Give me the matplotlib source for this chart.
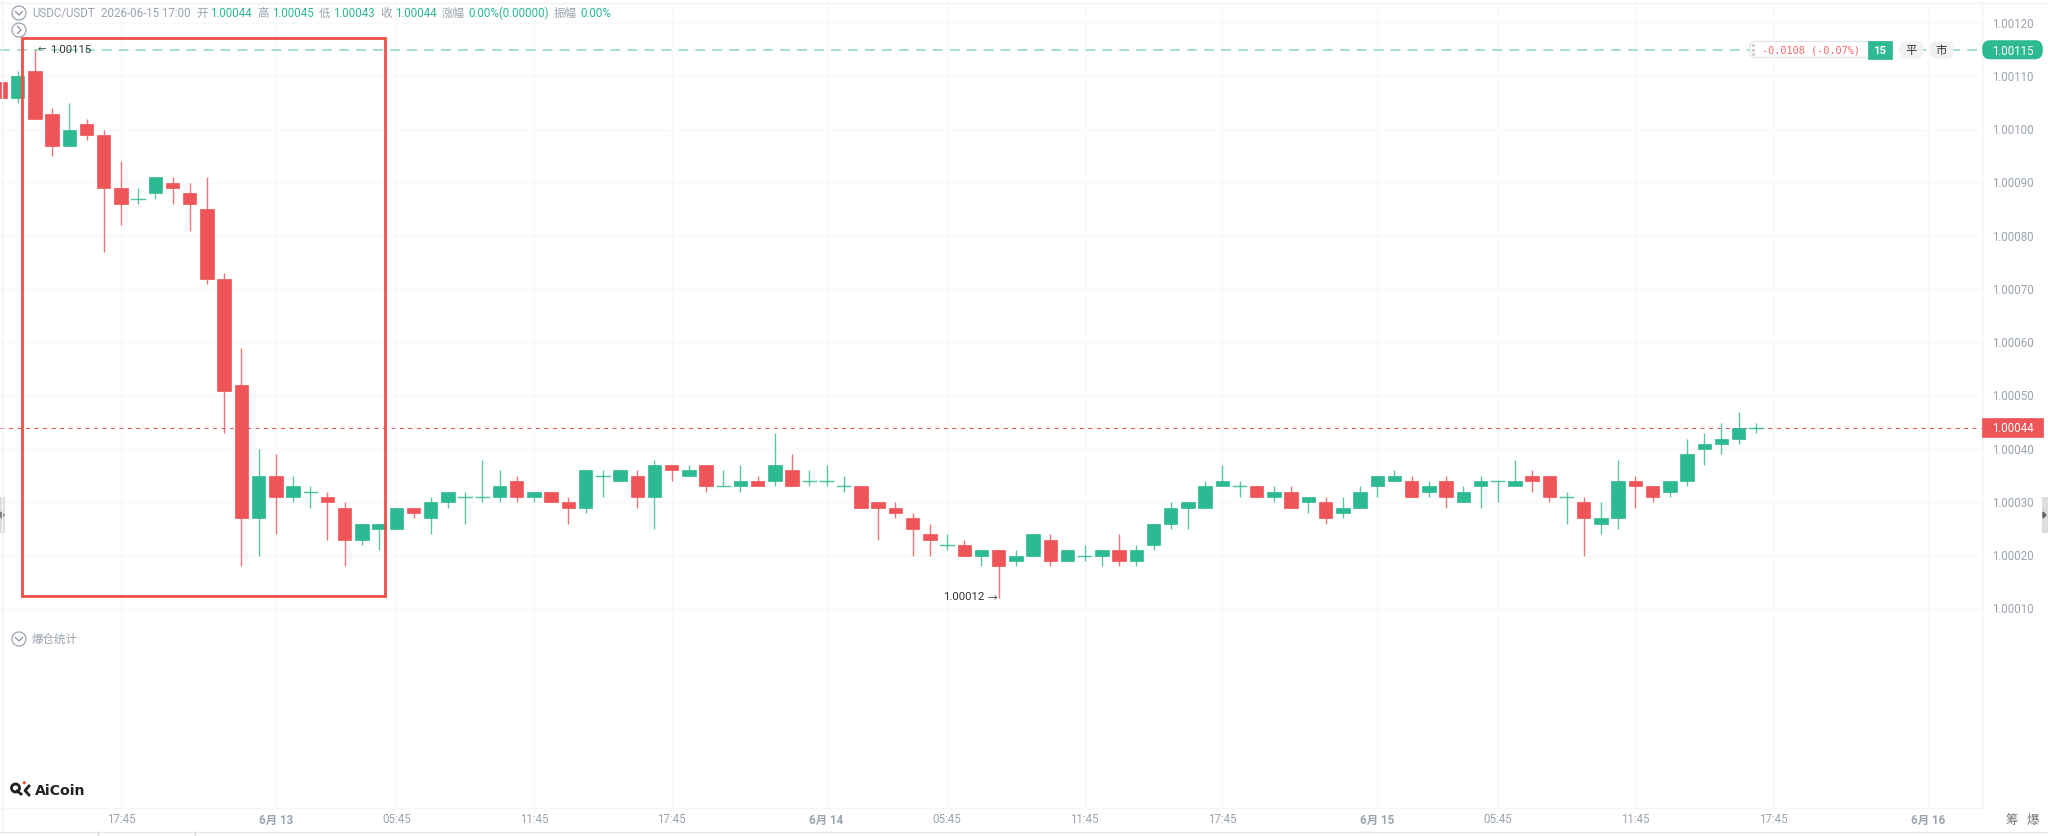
import matplotlib
matplotlib.use('Agg')
import matplotlib.pyplot as plt
from matplotlib.patches import Rectangle, FancyBboxPatch, Circle

plt.rcParams['font.family'] = ['Roboto', 'Noto Sans CJK SC', 'DejaVu Sans']

# OHLC of the visible bars, the first one is cut by the left edge
opens = [1.00109, 1.00106, 1.00111, 1.00103, 1.00097, 1.00101, 1.00099, 1.00089, 1.00087, 1.00088,
         1.00090, 1.00088, 1.00085, 1.00072, 1.00052, 1.00027, 1.00035, 1.00031, 1.00032, 1.00031,
         1.00029, 1.00023, 1.00025, 1.00025, 1.00029, 1.00027, 1.00030, 1.00031, 1.00031, 1.00031,
         1.00034, 1.00031, 1.00032, 1.00030, 1.00029, 1.00035, 1.00034, 1.00035, 1.00031, 1.00037,
         1.00035, 1.00037, 1.00033, 1.00033, 1.00034, 1.00034, 1.00036, 1.00034, 1.00034, 1.00033,
         1.00033, 1.00030, 1.00029, 1.00027, 1.00024, 1.00022, 1.00022, 1.00020, 1.00021, 1.00019,
         1.00020, 1.00023, 1.00019, 1.00020, 1.00020, 1.00021, 1.00019, 1.00022, 1.00026, 1.00029,
         1.00029, 1.00033, 1.00033, 1.00033, 1.00031, 1.00032, 1.00030, 1.00030, 1.00028, 1.00029,
         1.00033, 1.00034, 1.00034, 1.00032, 1.00034, 1.00030, 1.00033, 1.00034, 1.00033, 1.00035,
         1.00035, 1.00031, 1.00030, 1.00026, 1.00027, 1.00034, 1.00033, 1.00032, 1.00034, 1.00040,
         1.00041, 1.00042, 1.00044]
highs = [1.00109, 1.00111, 1.00115, 1.00104, 1.00105, 1.00102, 1.00100, 1.00094, 1.00089, 1.00091,
         1.00091, 1.00090, 1.00091, 1.00073, 1.00059, 1.00040, 1.00039, 1.00035, 1.00033, 1.00032,
         1.00030, 1.00026, 1.00026, 1.00029, 1.00029, 1.00031, 1.00032, 1.00032, 1.00038, 1.00036,
         1.00035, 1.00032, 1.00032, 1.00031, 1.00036, 1.00036, 1.00036, 1.00036, 1.00038, 1.00037,
         1.00037, 1.00037, 1.00036, 1.00037, 1.00035, 1.00043, 1.00039, 1.00036, 1.00037, 1.00035,
         1.00033, 1.00030, 1.00030, 1.00028, 1.00026, 1.00024, 1.00023, 1.00021, 1.00021, 1.00021,
         1.00024, 1.00024, 1.00021, 1.00022, 1.00021, 1.00024, 1.00022, 1.00026, 1.00030, 1.00030,
         1.00034, 1.00037, 1.00034, 1.00033, 1.00033, 1.00033, 1.00031, 1.00031, 1.00031, 1.00033,
         1.00035, 1.00036, 1.00035, 1.00034, 1.00035, 1.00033, 1.00035, 1.00034, 1.00038, 1.00036,
         1.00035, 1.00032, 1.00031, 1.00030, 1.00038, 1.00035, 1.00033, 1.00034, 1.00042, 1.00043,
         1.00045, 1.00047, 1.00045]
lows = [1.00106, 1.00105, 1.00102, 1.00095, 1.00097, 1.00098, 1.00077, 1.00082, 1.00086, 1.00087,
        1.00086, 1.00081, 1.00071, 1.00043, 1.00018, 1.00020, 1.00024, 1.00030, 1.00029, 1.00023,
        1.00018, 1.00022, 1.00021, 1.00025, 1.00027, 1.00024, 1.00029, 1.00026, 1.00030, 1.00030,
        1.00030, 1.00030, 1.00030, 1.00026, 1.00028, 1.00031, 1.00034, 1.00029, 1.00025, 1.00034,
        1.00035, 1.00032, 1.00033, 1.00032, 1.00033, 1.00033, 1.00033, 1.00033, 1.00033, 1.00032,
        1.00029, 1.00023, 1.00027, 1.00020, 1.00020, 1.00021, 1.00020, 1.00018, 1.00012, 1.00018,
        1.00020, 1.00018, 1.00019, 1.00019, 1.00018, 1.00018, 1.00018, 1.00021, 1.00025, 1.00025,
        1.00029, 1.00033, 1.00031, 1.00031, 1.00030, 1.00029, 1.00028, 1.00026, 1.00027, 1.00029,
        1.00031, 1.00034, 1.00031, 1.00031, 1.00029, 1.00030, 1.00029, 1.00030, 1.00033, 1.00032,
        1.00030, 1.00026, 1.00020, 1.00024, 1.00025, 1.00029, 1.00030, 1.00031, 1.00033, 1.00037,
        1.00039, 1.00041, 1.00043]
closes = [1.00106, 1.00110, 1.00102, 1.00097, 1.00100, 1.00099, 1.00089, 1.00086, 1.00087, 1.00091,
          1.00089, 1.00086, 1.00072, 1.00051, 1.00027, 1.00035, 1.00031, 1.00033, 1.00032, 1.00030,
          1.00023, 1.00026, 1.00026, 1.00029, 1.00028, 1.00030, 1.00032, 1.00031, 1.00031, 1.00033,
          1.00031, 1.00032, 1.00030, 1.00029, 1.00036, 1.00035, 1.00036, 1.00031, 1.00037, 1.00036,
          1.00036, 1.00033, 1.00033, 1.00034, 1.00033, 1.00037, 1.00033, 1.00034, 1.00034, 1.00033,
          1.00029, 1.00029, 1.00028, 1.00025, 1.00023, 1.00022, 1.00020, 1.00021, 1.00018, 1.00020,
          1.00024, 1.00019, 1.00021, 1.00020, 1.00021, 1.00019, 1.00021, 1.00026, 1.00029, 1.00030,
          1.00033, 1.00034, 1.00033, 1.00031, 1.00032, 1.00029, 1.00031, 1.00027, 1.00029, 1.00032,
          1.00035, 1.00035, 1.00031, 1.00033, 1.00031, 1.00032, 1.00034, 1.00034, 1.00034, 1.00034,
          1.00031, 1.00031, 1.00027, 1.00027, 1.00034, 1.00033, 1.00031, 1.00034, 1.00039, 1.00041,
          1.00042, 1.00044, 1.00044]

y_ticks = [1.00010, 1.00020, 1.00030, 1.00040, 1.00050, 1.00060, 1.00070, 1.00080,
           1.00090, 1.00100, 1.00110, 1.00120]
x_tick_pos = [6, 15, 22, 30, 38, 47, 54, 62, 70, 79, 86, 94, 102, 111]
x_tick_labels = ['17:45', '6月 13', '05:45', '11:45', '17:45', '6月 14', '05:45', '11:45',
                 '17:45', '6月 15', '05:45', '11:45', '17:45', '6月 16']

last_price = 1.00044
peak_price = 1.00115

GREEN = '#2db992'
RED = '#ef5458'
GREY = '#9aa3af'
GRID = '#f8f9fa'

W, H = 2048, 837
fig = plt.figure(figsize=(W / 100, H / 100), dpi=100, facecolor='white')

# price pane, bar 0 sits at x=17.7px and bars are 17.21px apart
ax = fig.add_axes([0, 1 - 809 / H, 1982 / W, (809 - 3) / H])
ax.set_xlim(-1.028, 114.14)
ax.set_ylim(1 - 27.36e-5, 1 + 123.94e-5)
for s in ax.spines.values():
    s.set_visible(False)
ax.set_xticks([])
ax.set_yticks([])
ax.set_facecolor('white')
for t in y_ticks:
    ax.axhline(t, color=GRID, lw=1, zorder=0)
for p in x_tick_pos:
    ax.axvline(p, color=GRID, lw=1, zorder=0)

for i in range(len(opens)):
    x = i - 1
    color = RED if closes[i] < opens[i] else GREEN
    ax.plot([x, x], [lows[i], highs[i]], color=color, lw=1, solid_capstyle='butt', zorder=3, alpha=0.8)
    top = max(opens[i], closes[i])
    bot = min(opens[i], closes[i])
    if top == bot:
        ax.plot([x - 0.39, x + 0.39], [top, top], color=color, lw=1, zorder=3, alpha=0.85)
    else:
        ax.add_patch(Rectangle((x - 0.39, bot), 0.78, top - bot, facecolor=color,
                               edgecolor=color, lw=0.5, zorder=4))

ax.axhline(peak_price, color='#8ad8c0', lw=1.1, dashes=(6.5, 4.6), zorder=2)
ax.axhline(last_price, color=RED, lw=0.72, dashes=(4, 4.5), zorder=2)

# everything below is placed in pixels on a full-figure overlay
ov = fig.add_axes([0, 0, 1, 1], facecolor='none')
ov.set_xlim(0, W)
ov.set_ylim(H, 0)
ov.axis('off')


def label(x, y, s, color=GREY, size=8.3, ha='left', **kw):
    ov.text(x, y, s, color=color, fontsize=size, ha=ha, va='center', **kw)


def chevron_icon(x, y, direction):
    ov.add_patch(Circle((x, y), 7, facecolor='white', edgecolor='#9aa3af', lw=0.9))
    if direction == 'down':
        ov.plot([x - 3.5, x, x + 3.5], [y - 1.5, y + 2, y - 1.5], color='#8a93a0', lw=0.9)
    else:
        ov.plot([x - 1.5, x + 2, x - 1.5], [y - 3.5, y, y + 3.5], color='#8a93a0', lw=0.9)


# frame lines of the panes
ov.plot([1982, 1982], [3, 809], color='#f1f2f4', lw=1)
ov.plot([1.5, 1.5], [3, 833], color='#f1f2f4', lw=1)
ov.plot([0, W], [3.5, 3.5], color='#f1f2f4', lw=1)
ov.plot([0, 1982], [809, 809], color='#f4f5f6', lw=1)
ov.plot([0, W], [833, 833], color='#e6e8eb', lw=1)
for tx in [98, 195]:
    ov.plot([tx, tx], [833, 837], color='#d8dade', lw=1)

# price axis
for t in y_ticks:
    y = 24 + (1.0012 - t) * 532700
    label(1992, y, f'{t:.5f}')

# time axis
for p, s in zip(x_tick_pos, x_tick_labels):
    px = 17.7 + 17.21 * p
    bold = '月' in s
    label(px, 820, s, ha='center', weight='bold' if bold else 'normal')

# header line
chevron_icon(19, 14, 'down')
chevron_icon(19, 31, 'right')
header = [(32, 'USDC/USDT', GREY), (101, '2026-06-15 17:00', GREY),
          (196, '开', GREY), (210, '1.00044', GREEN),
          (257, '高', GREY), (272, '1.00045', GREEN),
          (319, '低', GREY), (333, '1.00043', GREEN),
          (380, '收', GREY), (395, '1.00044', GREEN),
          (442, '涨幅', GREY), (468, '0.00%(0.00000)', GREEN),
          (554, '振幅', GREY), (580, '0.00%', GREEN)]
for hx, s, c in header:
    label(hx, 13, s, color=c)

chevron_icon(19, 640, 'down')
label(32, 639, '爆仓统计')

# high and low annotations
label(38, 50, '←', color='#333333', size=6)
label(50, 50, '1.00115', color='#333333', size=8.2)
label(943, 597, '1.00012', color='#333333', size=8.2)
label(988, 598, '→', color='#333333', size=7)

# highlight box around the sell-off
ov.add_patch(Rectangle((21.5, 38.5), 363.5, 558, fill=False, edgecolor='#f04f47', lw=2, zorder=6))

# position chip on the peak line
ov.add_patch(FancyBboxPatch((1750, 42.5), 141, 16, boxstyle='round,pad=0,rounding_size=5',
                            facecolor='white', edgecolor='#e4e6e9', lw=1, zorder=5))
ov.add_patch(Rectangle((1868, 42), 24, 18, facecolor=GREEN, edgecolor=GREEN, lw=0.5, zorder=6))
ov.scatter([1753, 1753, 1753], [46, 50.5, 55], s=1.5, color='#c8ccd2', zorder=7)
ov.text(1762.5, 50.5, '-0.0108 (-0.07%)', color='#f2686c', fontsize=7.4, family='DejaVu Sans Mono',
        va='center', zorder=7)
ov.text(1880, 50.5, '15', color='white', fontsize=8.2, ha='center', va='center', weight='bold', zorder=7)
for cx, s in [(1911.5, '平'), (1941.5, '市')]:
    ov.add_patch(FancyBboxPatch((cx - 9, 45), 18, 12, boxstyle='round,pad=0,rounding_size=4',
                                facecolor='#f0f1f2', edgecolor='#f0f1f2', lw=4, zorder=5))
    ov.text(cx, 50.5, s, color='#333333', fontsize=8.2, ha='center', va='center', zorder=7)

# current price tags
ov.add_patch(FancyBboxPatch((1985, 44), 55, 13.5, boxstyle='round,pad=0,rounding_size=5',
                            facecolor=GREEN, edgecolor=GREEN, lw=4, zorder=5))
ov.text(2012.5, 51, '1.00115', color='white', fontsize=8.3, ha='center', va='center', zorder=7)
ov.add_patch(Rectangle((1982, 418.5), 61, 19, facecolor=RED, edgecolor=RED, lw=0.5, zorder=5))
ov.text(2012.5, 428, '1.00044', color='white', fontsize=8.3, ha='center', va='center', zorder=7)

# side handles
ov.add_patch(Rectangle((0, 498), 5, 36, facecolor='#dddddd', edgecolor='none'))
ov.add_patch(Rectangle((2042, 498), 6, 36, facecolor='#dddddd', edgecolor='none'))
ov.fill([1, 4, 1], [513, 516, 519], color='#666666')
ov.fill([2043, 2046, 2043], [513, 516, 519], color='#666666')

# logo
ov.add_patch(Circle((15.5, 789), 4, fill=False, edgecolor='#222222', lw=2))
ov.plot([17, 21], [792, 795], color='#222222', lw=2)
ov.plot([29, 25, 29], [787, 791.5, 796], color='#222222', lw=2)
ov.add_patch(Circle((24.3, 783.7), 1.6, facecolor='#ef5030', edgecolor='none'))
ov.text(35, 791.5, 'AiCoin', color='#222222', fontsize=10.2, weight='bold', va='center',
        family='DejaVu Sans')

# shortcuts at the bottom right
label(2012, 821, '筹', color='#777777', size=9, ha='center')
label(2033, 821, '爆', color='#777777', size=9, ha='center')

fig.savefig('out.png', dpi=100)
